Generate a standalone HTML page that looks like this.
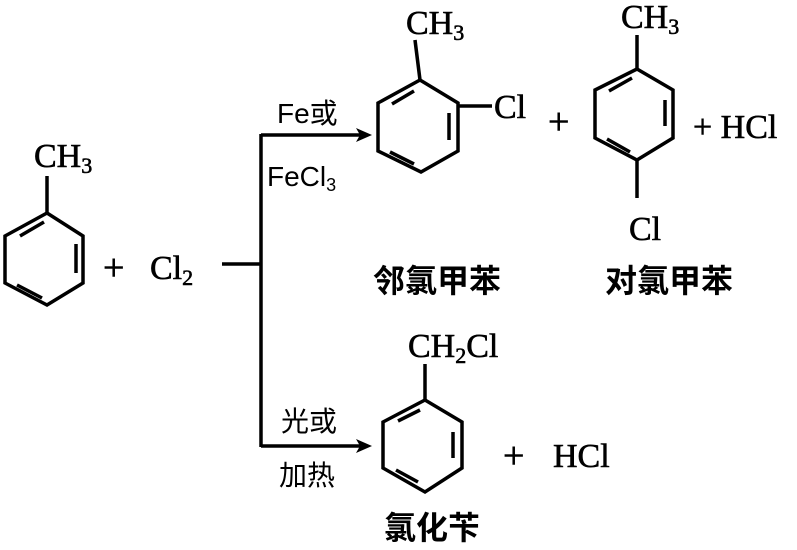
<!DOCTYPE html>
<html><head><style>body{margin:0;background:#fff}svg{display:block}</style></head><body>
<svg width="797" height="550" viewBox="0 0 797 550" xmlns="http://www.w3.org/2000/svg" font-family="'Liberation Serif','Noto Serif CJK SC',serif" fill="#000">
<g stroke="#000" stroke-width="3.5" fill="none">
<polygon points="47,213 83,236 83,283 47,305 5,283 5,236"/>
<line x1="47" y1="213" x2="47" y2="176"/>
<line x1="20" y1="236" x2="44" y2="222"/><line x1="76" y1="244" x2="76" y2="273"/><line x1="17" y1="285" x2="42" y2="298"/>
<line x1="222" y1="264" x2="261" y2="264"/>
<line x1="261" y1="134" x2="261" y2="447"/>
<line x1="261" y1="135" x2="362" y2="135"/>
<line x1="261" y1="446" x2="362" y2="446"/>
<polygon points="420,80 458,103 458,151 421,172 378,151 378,103"/>
<line x1="415" y1="40" x2="420" y2="80"/>
<line x1="458" y1="106" x2="492" y2="106"/>
<line x1="392" y1="104" x2="414" y2="91"/><line x1="449" y1="113" x2="449" y2="140"/><line x1="390" y1="152" x2="414" y2="164"/>
<polygon points="637,69 673,90 673,138 637,160 595,138 595,90"/>
<line x1="637" y1="35" x2="637" y2="69"/><line x1="637" y1="160" x2="637" y2="198"/>
<line x1="609" y1="91" x2="632" y2="78"/><line x1="665" y1="100" x2="665" y2="126"/><line x1="607" y1="139" x2="630" y2="152"/>
<polygon points="425,400 462,422 462,468 425,492 383,468 383,422"/>
<line x1="425" y1="364" x2="425" y2="400"/>
<line x1="398" y1="421" x2="420" y2="410"/><line x1="453" y1="432" x2="453" y2="458"/><line x1="396" y1="470" x2="418" y2="482"/>
</g>
<polygon points="372,135 356,128 360,135 356,142"/>
<polygon points="372,446 356,439 360,446 356,453"/>
<g font-size="34" stroke="#000" stroke-width="0.6">
<text x="34" y="167">CH<tspan font-size="22" dy="6">3</tspan></text>
<text x="103" y="280" font-size="38">+</text>
<text x="150" y="279">Cl<tspan font-size="22" dy="6">2</tspan></text>
<text x="406" y="34">CH<tspan font-size="22" dy="6">3</tspan></text>
<text x="494" y="118">Cl</text>
<text x="548" y="134" font-size="38">+</text>
<text x="621" y="28">CH<tspan font-size="22" dy="6">3</tspan></text>
<text x="629" y="240">Cl</text>
<text x="693" y="138">+ HCl</text>
<text x="408" y="357">CH<tspan font-size="22" dy="6">2</tspan><tspan dy="-6">Cl</tspan></text>
<text x="503" y="468" font-size="38">+</text>
<text x="553" y="467">HCl</text>
</g>
<g font-size="28" font-family="'Liberation Sans','Noto Sans CJK SC',sans-serif">
<text x="277" y="123">Fe或</text>
<text x="267" y="186">FeCl<tspan font-size="18" dy="5">3</tspan></text>
<text x="281" y="431">光或</text>
<text x="279" y="485">加热</text>
</g>
<g font-size="32" font-weight="bold" font-family="'Noto Sans CJK SC',sans-serif">
<text x="373" y="292">邻氯甲苯</text>
<text x="605" y="292">对氯甲苯</text>
<text x="384" y="539">氯化苄</text>
</g>
</svg>
</body></html>
